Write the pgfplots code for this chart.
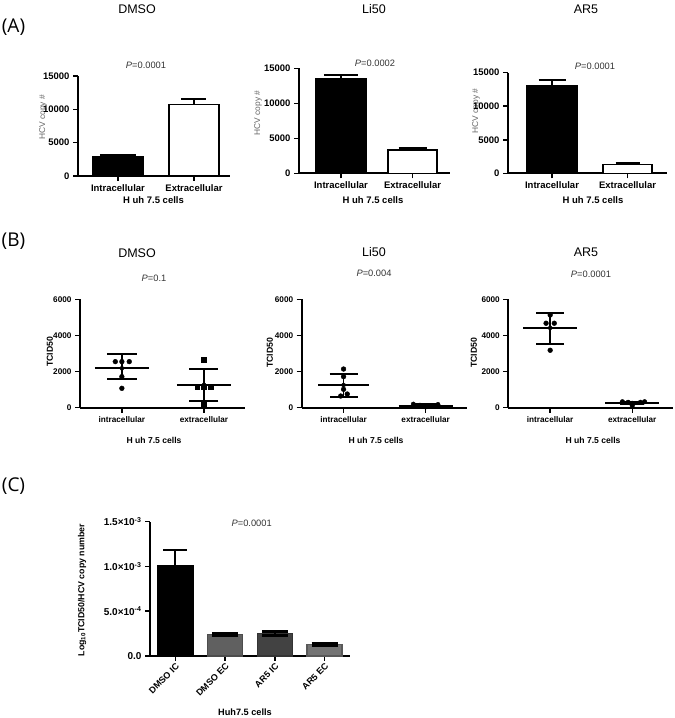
\documentclass[border=0pt]{standalone}
\usepackage{pgfplots}
\pgfplotsset{compat=1.18}
\usepackage{fontspec}
\setmainfont{Liberation Sans}
\newfontfamily\panelfont{Open Sans}

\pgfplotsset{
  prism/.style={scale only axis, anchor=south west, axis lines=left,
    axis line style={line width=1.9pt, -}, every tick/.style={black, line width=1.5pt},
    tick align=outside, major tick length=5pt, clip=false, ymin=0,
    scaled y ticks=false, scaled x ticks=false,
    every tick label/.append style={text=black}},
  tickA/.style={every tick label/.append style={font=\bfseries\fontsize{9.5}{10}\selectfont}},
  tickB/.style={every tick label/.append style={font=\bfseries\fontsize{8.2}{9}\selectfont}},
  errA/.style={error bars/.cd, y dir=plus, y explicit,
    error bar style={line width=1.8pt, black},
    error mark options={rotate=90, line width=1.8pt, mark size=#1, black}},
  errA/.default=13pt,
  errC/.style={error bars/.cd, y dir=both, y explicit,
    error bar style={line width=1.8pt, black},
    error mark options={rotate=90, line width=3pt, mark size=13pt, black}},
  sdB/.style={only marks, mark=none, error bars/.cd, y dir=both, y explicit,
    error bar style={line width=1.8pt, black},
    error mark options={rotate=90, line width=1.8pt, mark size=#1, black}},
  meanB/.style={black, line width=1.8pt, mark=none},
}
\definecolor{cgA}{HTML}{606060}
\definecolor{cgB}{HTML}{424242}
\definecolor{cgC}{HTML}{747474}

\begin{document}
\begin{tikzpicture}
\path[use as bounding box] (0,0) rectangle (675pt,718pt);

% ---------------- Panel A ----------------
\node[font=\panelfont\fontsize{19}{22}\selectfont] at (13.5pt,690.5pt) {(A)};
\node[font=\fontsize{12.5}{14}\selectfont] at (137pt,708.5pt) {DMSO};
\node[font=\fontsize{12.5}{14}\selectfont] at (374pt,708.5pt) {Li50};
\node[font=\fontsize{12.5}{14}\selectfont] at (586pt,708.5pt) {AR5};
\node[font=\fontsize{9.3}{11}\selectfont, text=black!80] at (146pt,652.5pt) {\textit{P}=0.0001};
\node[font=\fontsize{9.3}{11}\selectfont, text=black!80] at (375pt,655pt) {\textit{P}=0.0002};
\node[font=\fontsize{9.3}{11}\selectfont, text=black!80] at (595pt,651.3pt) {\textit{P}=0.0001};
\node[rotate=90, font=\fontsize{8.4}{10}\selectfont, text=black!60] at (43pt,600.5pt) {HCV copy \#};
\node[rotate=90, font=\fontsize{8.4}{10}\selectfont, text=black!60] at (258pt,605pt) {HCV copy \#};
\node[rotate=90, font=\fontsize{8.4}{10}\selectfont, text=black!60] at (476pt,607pt) {HCV copy \#};
\node[font=\bfseries\fontsize{9.5}{11}\selectfont] at (153.5pt,518pt) {H uh 7.5 cells};
\node[font=\bfseries\fontsize{9.5}{11}\selectfont] at (373pt,518pt) {H uh 7.5 cells};
\node[font=\bfseries\fontsize{9.5}{11}\selectfont] at (593pt,518pt) {H uh 7.5 cells};

\begin{axis}[prism, tickA, at={(78pt,542pt)}, width=152pt, height=100pt,
  xmin=-0.526, xmax=1.474, ymax=15000, xtick={0,1},
  xticklabels={Intracellular,Extracellular},
  ytick={0,5000,10000,15000}, yticklabels={0,5000,10000,15000}]
\addplot[ybar, bar width=50pt, fill=black, draw=black, line width=1.5pt, errA=18pt]
  coordinates {(0,2850) +- (0,300)};
\addplot[ybar, bar width=50pt, fill=white, draw=black, line width=1.5pt, errA=12.5pt]
  coordinates {(1,10750) +- (0,750)};
\end{axis}

\begin{axis}[prism, tickA, at={(299pt,544.7pt)}, width=151pt, height=105pt,
  xmin=-0.587, xmax=1.524, ymax=15000, xtick={0,1},
  xticklabels={Intracellular,Extracellular},
  ytick={0,5000,10000,15000}, yticklabels={0,5000,10000,15000}]
\addplot[ybar, bar width=51pt, fill=black, draw=black, line width=1.5pt, errA=17pt]
  coordinates {(0,13575) +- (0,475)};
\addplot[ybar, bar width=49pt, fill=white, draw=black, line width=1.5pt, errA=14pt]
  coordinates {(1,3330) +- (0,330)};
\end{axis}

\begin{axis}[prism, tickA, at={(508pt,544.7pt)}, width=159pt, height=100.6pt,
  xmin=-0.583, xmax=1.523, ymax=15000, xtick={0,1},
  xticklabels={Intracellular,Extracellular},
  ytick={0,5000,10000,15000}, yticklabels={0,5000,10000,15000}]
\addplot[ybar, bar width=50pt, fill=black, draw=black, line width=1.5pt, errA=13.5pt]
  coordinates {(0,13120) +- (0,780)};
\addplot[ybar, bar width=49pt, fill=white, draw=black, line width=1.5pt, errA=12pt]
  coordinates {(1,1340) +- (0,150)};
\end{axis}

% ---------------- Panel B ----------------
\node[font=\panelfont\fontsize{19}{22}\selectfont] at (13.5pt,477pt) {(B)};
\node[font=\fontsize{12.5}{14}\selectfont] at (137pt,465pt) {DMSO};
\node[font=\fontsize{12.5}{14}\selectfont] at (374pt,466.3pt) {Li50};
\node[font=\fontsize{12.5}{14}\selectfont] at (586pt,465.5pt) {AR5};
\node[font=\fontsize{9.3}{11}\selectfont, text=black!80] at (154pt,440pt) {\textit{P}=0.1};
\node[font=\fontsize{9.3}{11}\selectfont, text=black!80] at (374pt,444.3pt) {\textit{P}=0.004};
\node[font=\fontsize{9.3}{11}\selectfont, text=black!80] at (591pt,444pt) {\textit{P}=0.0001};
\node[rotate=90, font=\bfseries\fontsize{8.7}{10}\selectfont] at (50pt,366.3pt) {TCID50};
\node[rotate=90, font=\bfseries\fontsize{8.7}{10}\selectfont] at (270pt,365pt) {TCID50};
\node[rotate=90, font=\bfseries\fontsize{8.7}{10}\selectfont] at (474pt,365pt) {TCID50};
\node[font=\bfseries\fontsize{8.6}{10}\selectfont] at (154pt,278pt) {H uh 7.5 cells};
\node[font=\bfseries\fontsize{8.6}{10}\selectfont] at (376pt,278pt) {H uh 7.5 cells};
\node[font=\bfseries\fontsize{8.6}{10}\selectfont] at (593pt,278pt) {H uh 7.5 cells};

\begin{axis}[prism, tickB, at={(80pt,310.3pt)}, width=165pt, height=108.4pt,
  xmin=-0.51, xmax=1.5, ymax=6000, xtick={0,1},
  xticklabels={intracellular,extracellular},
  ytick={0,2000,4000,6000}, yticklabels={0,2000,4000,6000}]
\addplot[meanB] coordinates {(-0.33,2183) (0.33,2183)};
\addplot[sdB=15pt] coordinates {(0,2183) += (0,775) -= (0,610)};
\addplot[meanB] coordinates {(0.67,1270) (1.33,1270)};
\addplot[sdB=14.5pt] coordinates {(1,1270) += (0,880) -= (0,900)};
\addplot[only marks, mark=*, mark size=2.4pt, black]
  coordinates {(-0.08,2550) (0,2550) (0.09,2550) (0,1717) (0,1073)};
\addplot[only marks, mark=square*, mark size=2.3pt, black]
  coordinates {(1,2660) (0.92,1150) (1,1150) (1.08,1150) (1,150)};
\end{axis}

\begin{axis}[prism, tickB, at={(301.7pt,310.3pt)}, width=165pt, height=108.4pt,
  xmin=-0.51, xmax=1.5, ymax=6000, xtick={0,1},
  xticklabels={intracellular,extracellular},
  ytick={0,2000,4000,6000}, yticklabels={0,2000,4000,6000}]
\addplot[meanB] coordinates {(-0.31,1257) (0.31,1257)};
\addplot[sdB=14pt] coordinates {(0,1257) += (0,626) -= (0,684)};
\addplot[meanB] coordinates {(0.67,100) (1.33,100)};
\addplot[sdB=12pt] coordinates {(1,100) += (0,90) -= (0,90)};
\addplot[only marks, mark=*, mark size=2.4pt, black]
  coordinates {(0,2140) (0,1717) (0,1017) (0.045,757) (-0.035,646)};
\addplot[only marks, mark=*, mark size=2.2pt, black]
  coordinates {(0.85,200) (0.93,140) (1,40) (1.07,70) (1.15,180)};
\end{axis}

\begin{axis}[prism, tickB, at={(508.3pt,310.3pt)}, width=165pt, height=108.4pt,
  xmin=-0.51, xmax=1.5, ymax=6000, xtick={0,1},
  xticklabels={intracellular,extracellular},
  ytick={0,2000,4000,6000}, yticklabels={0,2000,4000,6000}]
\addplot[meanB] coordinates {(-0.33,4415) (0.33,4415)};
\addplot[sdB=14pt] coordinates {(0,4415) += (0,847) -= (0,869)};
\addplot[meanB] coordinates {(0.67,260) (1.33,260)};
\addplot[sdB=12pt] coordinates {(1,260) += (0,80) -= (0,80)};
\addplot[only marks, mark=*, mark size=2.4pt, black]
  coordinates {(0,5130) (-0.05,4675) (0.05,4675) (0,3178)};
\addplot[only marks, mark=*, mark size=2.3pt, black]
  coordinates {(0.88,330) (0.95,300) (1,110) (1.1,300) (1.15,330)};
\end{axis}

% ---------------- Panel C ----------------
\node[font=\panelfont\fontsize{19}{22}\selectfont] at (13.5pt,232pt) {(C)};
\node[font=\fontsize{9.3}{11}\selectfont, text=black!80] at (251.7pt,195pt) {\textit{P}=0.0001};
\node[rotate=90, font=\bfseries\fontsize{8.8}{10}\selectfont] at (82pt,128pt) {Log\textsubscript{10}TCID50/HCV copy number};
\node[font=\bfseries\fontsize{9.2}{10}\selectfont] at (245pt,5.5pt) {Huh7.5 cells};

\begin{axis}[prism, at={(150pt,62pt)}, width=200pt, height=134.3pt,
  xmin=-0.51, xmax=3.51, ymax=1.5e-3, xtick={0,1,2,3},
  xticklabels={DMSO IC,DMSO EC,AR5 IC,AR5 EC},
  xticklabel style={rotate=45, anchor=north east, inner sep=1pt, font=\bfseries\fontsize{9}{10}\selectfont},
  ytick={0,0.5e-3,1e-3,1.5e-3},
  yticklabels={0.0,5.0×10\textsuperscript{-4},1.0×10\textsuperscript{-3},1.5×10\textsuperscript{-3}},
  yticklabel style={font=\bfseries\fontsize{10}{11}\selectfont},
  axis line style={line width=2.2pt, -}]
\addplot[ybar, bar width=35pt, fill=black, draw=black, line width=1.5pt, errA=12pt]
  coordinates {(0,1.008e-3) +- (0,0.175e-3)};
\addplot[ybar, bar width=35pt, fill=cgA, draw=black!70, line width=1.5pt, errC]
  coordinates {(1,0.24e-3) +- (0,0.006e-3)};
\addplot[ybar, bar width=35pt, fill=cgB, draw=black!80, line width=1.5pt, errC]
  coordinates {(2,0.25e-3) +- (0,0.022e-3)};
\addplot[ybar, bar width=35pt, fill=cgC, draw=black!65, line width=1.5pt, errC]
  coordinates {(3,0.127e-3) +- (0,0.008e-3)};
\end{axis}
\end{tikzpicture}
\end{document}
